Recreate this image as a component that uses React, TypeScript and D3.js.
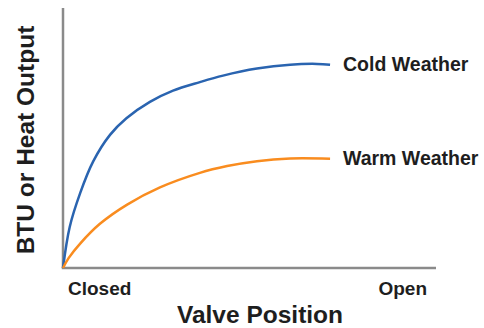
import React from "react";
import * as d3 from "d3";

const coldPos = [0, 1.8, 4.6, 8.1, 12.6, 17.0, 23.3, 29.5, 36.7, 42.9, 52.0, 60.9, 68.1, 71.6];
const coldOutput = [0, 15.8, 28.8, 41.0, 51.2, 57.6, 63.9, 68.2, 71.5, 74.0, 76.7, 78.2, 78.5, 78.2];
const warmPos = [0, 1.5, 4.6, 9.9, 17.2, 26.0, 36.7, 44.0, 52.0, 60.9, 71.6];
const warmOutput = [0, 3.8, 9.4, 17.0, 24.4, 31.0, 36.6, 39.2, 41.1, 42.1, 42.0];
const xTickLabels = ["Closed", "Open"];
const seriesNames = ["Cold Weather", "Warm Weather"];
const xTitle = "Valve Position";
const yTitle = "BTU or Heat Output";

export default function App() {
  const W = 484, H = 328;
  const x0 = 63, x1 = 436, yTop = 8, yBot = 268;
  const x = d3.scaleLinear().domain([0, 100]).range([x0, x1]);
  const y = d3.scaleLinear().domain([0, 100]).range([yBot, yTop]);
  const line = d3
    .line<[number, number]>()
    .x((d) => x(d[0]))
    .y((d) => y(d[1]))
    .curve(d3.curveCatmullRom.alpha(0.5));
  const cold = coldPos.map((v, i) => [v, coldOutput[i]] as [number, number]);
  const warm = warmPos.map((v, i) => [v, warmOutput[i]] as [number, number]);
  const font = "'Liberation Sans', Arial, Helvetica, sans-serif";
  const txt = "#1e1e1e";
  const coldEnd = cold[cold.length - 1];
  const warmEnd = warm[warm.length - 1];
  return (
    <svg
      width={W}
      height={H}
      style={{ position: "absolute", left: 0, top: 0 }}
      fontFamily={font}
      fontWeight="bold"
    >
      <rect width={W} height={H} fill="#fff" />
      <line x1={x0} y1={yTop} x2={x0} y2={yBot} stroke="#8a8a8a" strokeWidth={2.5} />
      <line x1={x0 - 1.25} y1={yBot} x2={x1} y2={yBot} stroke="#8a8a8a" strokeWidth={2.5} />
      <path d={line(cold) || ""} fill="none" stroke="#2a64b0" strokeWidth={2.5} />
      <path d={line(warm) || ""} fill="none" stroke="#f98c1f" strokeWidth={2.5} />
      <text x={343} y={y(coldEnd[1]) + 6} fontSize={19.5} fill={txt}>
        {seriesNames[0]}
      </text>
      <text x={343} y={y(warmEnd[1]) + 6} fontSize={19.5} fill={txt}>
        {seriesNames[1]}
      </text>
      <text x={68} y={295} fontSize={19} fill={txt}>
        {xTickLabels[0]}
      </text>
      <text x={427} y={295} fontSize={19} fill={txt} textAnchor="end">
        {xTickLabels[1]}
      </text>
      <text x={260} y={323} fontSize={24.5} fill={txt} textAnchor="middle">
        {xTitle}
      </text>
      <text
        transform={`translate(34,140) rotate(-90)`}
        fontSize={24.5}
        fill={txt}
        textAnchor="middle"
      >
        {yTitle}
      </text>
    </svg>
  );
}
